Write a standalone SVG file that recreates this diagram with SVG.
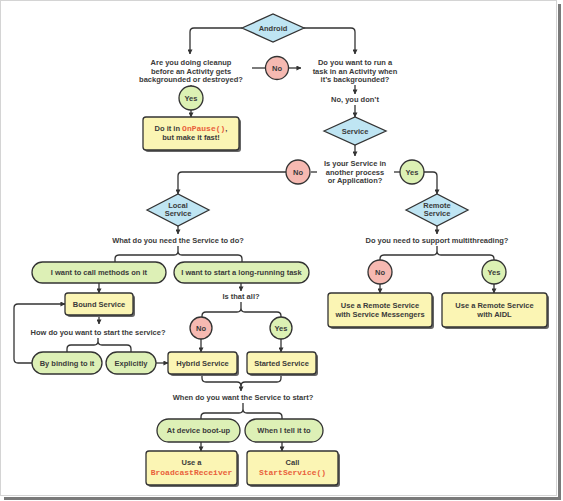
<svg xmlns="http://www.w3.org/2000/svg" width="563" height="501" viewBox="0 0 563 501">
<defs>
<marker id="ah" viewBox="0 0 6 6" refX="5.5" refY="3" markerWidth="5" markerHeight="5" orient="auto" markerUnits="userSpaceOnUse"><path d="M0,0 L6,3 L0,6 z" fill="#333"/></marker>
</defs>
<style>
.t{font-family:"Liberation Sans",Arial,sans-serif;font-weight:bold;font-size:7.5px;fill:#3a3a3a;text-anchor:middle}
.c{font-family:"Liberation Mono","Courier New",monospace;font-weight:bold;font-size:8px;fill:#e9603a}
.ln{fill:none;stroke:#333;stroke-width:1.3}
.ar{marker-end:url(#ah)}
.dia{fill:#bfe5f3;stroke:#333;stroke-width:1.3}
.box{fill:#fbf5b4;stroke:#333;stroke-width:1.3}
.sh{fill:#666}
.pill{fill:#ddf0b6;stroke:#333;stroke-width:1.3}
.no{fill:#f6b9b1;stroke:#333;stroke-width:1.3}
.yes{fill:#dcf1b4;stroke:#333;stroke-width:1.3}
</style>
<rect x="0" y="0" width="563" height="501" fill="#fff"/>
<g id="frame">
<rect x="0.5" y="0.5" width="556" height="495" fill="none" stroke="#d4d4d4" stroke-width="1"/>
<rect x="558" y="4" width="3" height="496" fill="#7a7a7a"/>
<rect x="4" y="497" width="557" height="3" fill="#7a7a7a"/>
</g>
<g id="connectors">
<path class="ln ar" d="M242,28 H194 Q190,28 190,32 V54"/>
<path class="ln ar" d="M304,28 H351 Q355,28 355,32 V54"/>
<path class="ln" d="M252,68 H265"/>
<path class="ln ar" d="M289,68 H301"/>
<path class="ln" d="M191,85 V86"/>
<path class="ln ar" d="M191,110 V117"/>
<path class="ln ar" d="M355,85 V94"/>
<path class="ln ar" d="M355,105 V117"/>
<path class="ln ar" d="M355,145 V156"/>
<path class="ln" d="M311,172 H317"/>
<path class="ln ar" d="M286,172 H182 Q178,172 178,176 V194"/>
<path class="ln" d="M394,172 H400"/>
<path class="ln ar" d="M424,172 H433 Q437,172 437,176 V194"/>
<path class="ln ar" d="M178,226 V234"/>
<path class="ln ar" d="M437,226 V234"/>
<path class="ln" d="M178,246 V251 Q178,255 174,255 H119 Q115,255 115,259 V262 M178,251 Q178,255 182,255 H238 Q242,255 242,259 V262"/>
<path class="ln" d="M437,246 V251 Q437,255 433,255 H384 Q380,255 380,259 V260 M437,251 Q437,255 441,255 H490 Q494,255 494,259 V260"/>
<path class="ln ar" d="M380,284 V293"/>
<path class="ln ar" d="M494,284 V293"/>
<path class="ln ar" d="M99,283 V293"/>
<path class="ln ar" d="M241,283 V291"/>
<path class="ln ar" d="M99,315 V324"/>
<path class="ln" d="M98,338 V341 Q98,345 94,345 H71 Q67,345 67,349 V352 M98,341 Q98,345 102,345 H127 Q131,345 131,349 V352"/>
<path class="ln ar" d="M32,363 H18 Q14,363 14,359 V308 Q14,304 18,304 H65"/>
<path class="ln ar" d="M156,363 H168"/>
<path class="ln" d="M241,302 V308 Q241,312 237,312 H206 Q202,312 202,316 V317 M241,308 Q241,312 245,312 H277 Q281,312 281,316 V317"/>
<path class="ln ar" d="M201,339 V352"/>
<path class="ln ar" d="M281,339 V352"/>
<path class="ln" d="M202,374 V378 Q202,382 206,382 H237 Q241,382 241,386 M241,386 Q241,382 245,382 H277 Q281,382 281,378 V374"/>
<path class="ln ar" d="M241,385 V391"/>
<path class="ln" d="M243,403 V409 Q243,413 239,413 H205 Q201,413 201,417 V419 M243,409 Q243,413 247,413 H278 Q282,413 282,417 V419"/>
<path class="ln ar" d="M201,442 V451"/>
<path class="ln ar" d="M282,442 V451"/>
</g>
<g id="android"><polygon class="dia" points="242,28 273,14 304,28 273,42"/><text class="t" x="273" y="31">Android</text></g>
<g id="q-cleanup"><text class="t" x="191" y="65">Are you doing cleanup</text><text class="t" x="191" y="73.5">before an Activity gets</text><text class="t" x="191" y="82">backgrounded or destroyed?</text></g>
<g id="no1"><circle class="no" cx="277" cy="68" r="11.5"/><text class="t" x="277" y="70.8">No</text></g>
<g id="yes1"><circle class="yes" cx="191" cy="98" r="12"/><text class="t" x="191" y="100.8">Yes</text></g>
<g id="onpause"><rect class="sh" x="145" y="119" width="96" height="33" rx="3"/><rect class="box" x="143" y="117" width="96" height="33" rx="3"/><text class="t" x="191" y="131">Do it in <tspan class="c">OnPause()</tspan>,</text><text class="t" x="191" y="140">but make it fast!</text></g>
<g id="q-run"><text class="t" x="355" y="65">Do you want to run a</text><text class="t" x="355" y="73.5">task in an Activity when</text><text class="t" x="355" y="82">it’s backgrounded?</text></g>
<g id="no-dont"><text class="t" x="355" y="102">No, you don’t</text></g>
<g id="service"><polygon class="dia" points="324,131 355,117 386,131 355,145"/><text class="t" x="355" y="134">Service</text></g>
<g id="q-process"><text class="t" x="355" y="166">Is your Service in</text><text class="t" x="355" y="174.5">another process</text><text class="t" x="355" y="183">or Application?</text></g>
<g id="no2"><circle class="no" cx="298" cy="172" r="12"/><text class="t" x="298" y="174.8">No</text></g>
<g id="yes2"><circle class="yes" cx="412" cy="172" r="12"/><text class="t" x="412" y="174.8">Yes</text></g>
<g id="local"><polygon class="dia" points="147,210 178,194 209,210 178,226"/><text class="t" x="178" y="208">Local</text><text class="t" x="178" y="216">Service</text></g>
<g id="remote"><polygon class="dia" points="406,210 437,194 468,210 437,226"/><text class="t" x="437" y="208">Remote</text><text class="t" x="437" y="216">Service</text></g>
<g id="q-do"><text class="t" x="178" y="243">What do you need the Service to do?</text></g>
<g id="q-multi"><text class="t" x="437" y="243">Do you need to support multithreading?</text></g>
<g id="no3"><circle class="no" cx="380" cy="272" r="12"/><text class="t" x="380" y="274.8">No</text></g>
<g id="yes3"><circle class="yes" cx="494" cy="272" r="12"/><text class="t" x="494" y="274.8">Yes</text></g>
<g id="messengers"><rect class="sh" x="330" y="295" width="104" height="34" rx="3"/><rect class="box" x="328" y="293" width="104" height="34" rx="3"/><text class="t" x="380" y="308">Use a Remote Service</text><text class="t" x="380" y="317">with Service Messengers</text></g>
<g id="aidl"><rect class="sh" x="444" y="295" width="105" height="34" rx="3"/><rect class="box" x="442" y="293" width="105" height="34" rx="3"/><text class="t" x="494.5" y="308">Use a Remote Service</text><text class="t" x="494.5" y="317">with AIDL</text></g>
<g id="call-methods"><rect class="pill" x="32" y="262" width="134" height="21" rx="10.5"/><text class="t" x="99" y="275">I want to call methods on it</text></g>
<g id="long-running"><rect class="pill" x="174" y="262" width="135" height="21" rx="10.5"/><text class="t" x="241.5" y="275">I want to start a long-running task</text></g>
<g id="bound"><rect class="sh" x="67" y="295" width="68" height="22" rx="3"/><rect class="box" x="65" y="293" width="68" height="22" rx="3"/><text class="t" x="99" y="307">Bound Service</text></g>
<g id="q-start"><text class="t" x="98" y="335">How do you want to start the service?</text></g>
<g id="binding"><rect class="pill" x="32" y="352" width="70" height="22" rx="11"/><text class="t" x="67" y="366">By binding to it</text></g>
<g id="explicitly"><rect class="pill" x="106" y="352" width="50" height="22" rx="11"/><text class="t" x="131" y="366">Explicitly</text></g>
<g id="q-all"><text class="t" x="241" y="299">Is that all?</text></g>
<g id="no4"><circle class="no" cx="201" cy="328" r="11"/><text class="t" x="201" y="330.8">No</text></g>
<g id="yes4"><circle class="yes" cx="281" cy="328" r="11"/><text class="t" x="281" y="330.8">Yes</text></g>
<g id="hybrid"><rect class="sh" x="170" y="354" width="69" height="22" rx="3"/><rect class="box" x="168" y="352" width="69" height="22" rx="3"/><text class="t" x="202.5" y="366">Hybrid Service</text></g>
<g id="started"><rect class="sh" x="249" y="354" width="69" height="22" rx="3"/><rect class="box" x="247" y="352" width="69" height="22" rx="3"/><text class="t" x="281.5" y="366">Started Service</text></g>
<g id="q-when"><text class="t" x="243" y="400">When do you want the Service to start?</text></g>
<g id="bootup"><rect class="pill" x="157" y="419" width="83" height="23" rx="11.5"/><text class="t" x="198.5" y="433">At device boot-up</text></g>
<g id="tell"><rect class="pill" x="245" y="419" width="78" height="23" rx="11.5"/><text class="t" x="284" y="433">When I tell it to</text></g>
<g id="broadcast"><rect class="sh" x="148" y="453" width="91" height="34" rx="3"/><rect class="box" x="146" y="451" width="91" height="34" rx="3"/><text class="t" x="191.5" y="465">Use a</text><text class="c" x="191.5" y="475" text-anchor="middle">BroadcastReceiver</text></g>
<g id="startservice"><rect class="sh" x="249" y="453" width="91" height="34" rx="3"/><rect class="box" x="247" y="451" width="91" height="34" rx="3"/><text class="t" x="292.5" y="465">Call</text><text class="c" x="292.5" y="475" text-anchor="middle">StartService()</text></g>
</svg>
